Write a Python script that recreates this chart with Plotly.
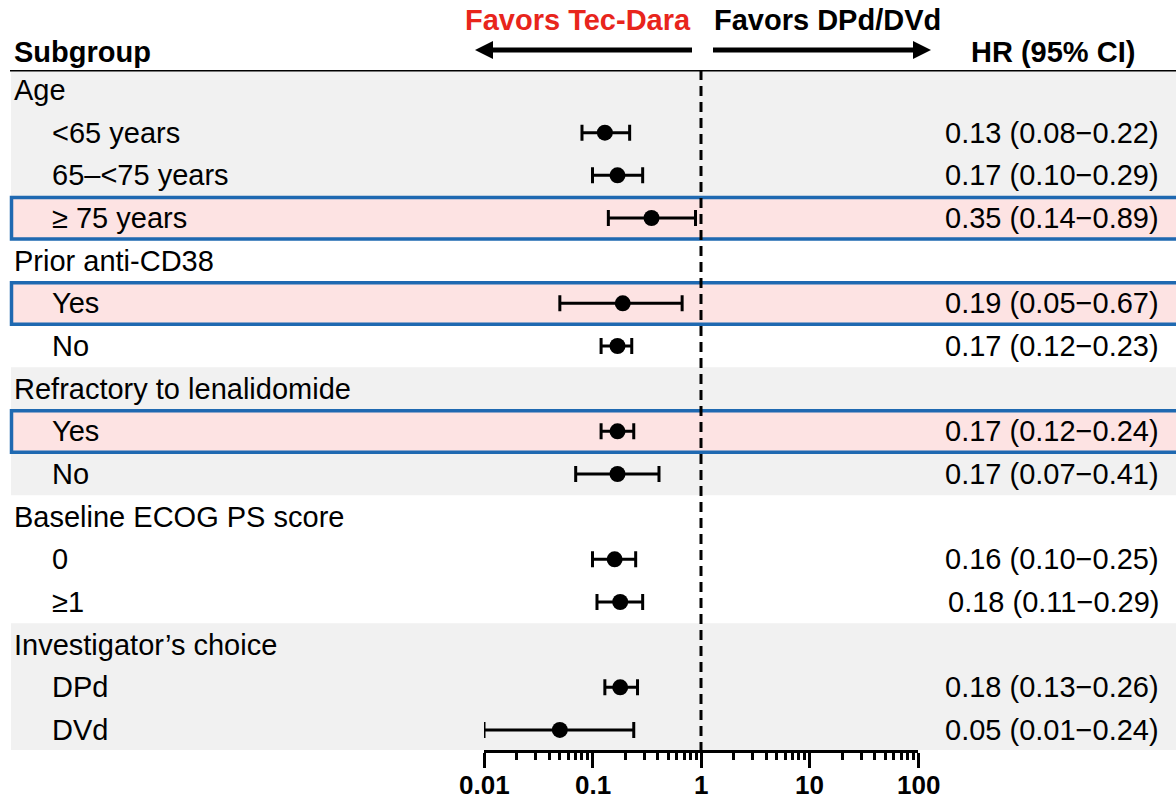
import math
import plotly.graph_objects as go

# ---------------- data ----------------
labels = ["Age", "<65 years", "65–<75 years", "≥ 75 years",
          "Prior anti-CD38", "Yes", "No",
          "Refractory to lenalidomide", "Yes", "No",
          "Baseline ECOG PS score", "0", "≥1",
          "Investigator’s choice", "DPd", "DVd"]
is_header = [True, False, False, False,
             True, False, False,
             True, False, False,
             True, False, False,
             True, False, False]
hr    = [None, 0.13, 0.17, 0.35, None, 0.19, 0.17, None, 0.17, 0.17, None, 0.16, 0.18, None, 0.18, 0.05]
lower = [None, 0.08, 0.10, 0.14, None, 0.05, 0.12, None, 0.12, 0.07, None, 0.10, 0.11, None, 0.13, 0.01]
upper = [None, 0.22, 0.29, 0.89, None, 0.67, 0.23, None, 0.24, 0.41, None, 0.25, 0.29, None, 0.26, 0.24]
highlight_rows = [3, 5, 8]
gray_groups = [(0, 3), (7, 9), (13, 15)]
tick_vals = [0.01, 0.1, 1, 10, 100]
tick_text = ["0.01", "0.1", "1", "10", "100"]

W, H = 1176, 801
FONT = "Liberation Sans, Arial, sans-serif"
FS = 29


def px(x):
    return x / W


def py(y):
    return 1 - y / H


rows = [i for i in range(len(labels)) if hr[i] is not None]
fig = go.Figure()
fig.add_trace(go.Scatter(
    x=[hr[i] for i in rows],
    y=rows,
    mode="markers",
    marker=dict(size=16, color="black"),
    error_x=dict(type="data", symmetric=False,
                 array=[upper[i] - hr[i] for i in rows],
                 arrayminus=[hr[i] - lower[i] for i in rows],
                 color="black", thickness=3, width=8),
    showlegend=False, hoverinfo="skip",
))

Y_TOP, Y_BOT = -0.47, 15.47
shapes = []
# gray bands
for a, b in gray_groups:
    shapes.append(dict(type="rect", xref="paper", yref="y",
                       x0=px(11), x1=1.0, y0=max(a - 0.5, Y_TOP), y1=min(b + 0.5, Y_BOT),
                       fillcolor="#f1f1f1", line=dict(width=0), layer="below"))
# highlighted rows
for r in highlight_rows:
    shapes.append(dict(type="rect", xref="paper", yref="y",
                       x0=px(11.5), x1=1.02, y0=r - 0.48, y1=r + 0.49,
                       fillcolor="#fde3e3", line=dict(color="#1f69b1", width=3.5), layer="below"))
# header line
shapes.append(dict(type="line", xref="paper", yref="y", x0=px(10), x1=1.0, y0=Y_TOP, y1=Y_TOP,
                   line=dict(color="black", width=3)))
# dashed reference line at HR = 1
shapes.append(dict(type="line", xref="x", yref="y", x0=1, x1=1, y0=Y_TOP, y1=Y_BOT,
                   line=dict(color="black", width=3, dash="10px,6px")))
# arrows
ya = py(50)
shapes.append(dict(type="line", xref="paper", yref="paper", x0=px(490), x1=px(692), y0=ya, y1=ya,
                   line=dict(color="black", width=5)))
shapes.append(dict(type="path", xref="paper", yref="paper",
                   path=f"M {px(475)} {ya} L {px(493)} {py(41)} L {px(493)} {py(59)} Z",
                   fillcolor="black", line=dict(width=0)))
shapes.append(dict(type="line", xref="paper", yref="paper", x0=px(713), x1=px(915), y0=ya, y1=ya,
                   line=dict(color="black", width=5)))
shapes.append(dict(type="path", xref="paper", yref="paper",
                   path=f"M {px(931)} {ya} L {px(913)} {py(41)} L {px(913)} {py(59)} Z",
                   fillcolor="black", line=dict(width=0)))

annotations = []
for i, lab in enumerate(labels):
    annotations.append(dict(xref="paper", yref="y", x=px(12 if is_header[i] else 50), y=i,
                            text=lab, showarrow=False, xanchor="left", yanchor="middle",
                            font=dict(family=FONT, size=FS, color="black")))
    if hr[i] is not None:
        txt = f"{hr[i]:.2f} ({lower[i]:.2f}\u2212{upper[i]:.2f})"
        annotations.append(dict(xref="paper", yref="y", x=px(1161), y=i,
                                text=txt, showarrow=False, xanchor="right", yanchor="middle",
                                font=dict(family=FONT, size=FS, color="black")))
# x-axis tick labels (annotations on a log axis take log10 positions)
for v, t in zip(tick_vals, tick_text):
    annotations.append(dict(xref="x", yref="paper", x=math.log10(v), y=py(785), text=f"<b>{t}</b>",
                            showarrow=False, xanchor="center", yanchor="middle",
                            font=dict(family=FONT, size=26, color="black")))
annotations += [
    dict(xref="paper", yref="paper", x=px(12), y=py(52), text="<b>Subgroup</b>", showarrow=False,
         xanchor="left", yanchor="middle", font=dict(family=FONT, size=FS, color="black")),
    dict(xref="paper", yref="paper", x=px(969), y=py(52), text="<b>HR (95% CI)</b>", showarrow=False,
         xanchor="left", yanchor="middle", font=dict(family=FONT, size=FS, color="black")),
    dict(xref="paper", yref="paper", x=px(693), y=py(20), text="<b>Favors Tec-Dara</b>", showarrow=False,
         xanchor="right", yanchor="middle", font=dict(family=FONT, size=FS, color="#e8251c")),
    dict(xref="paper", yref="paper", x=px(712), y=py(20), text="<b>Favors DPd/DVd</b>", showarrow=False,
         xanchor="left", yanchor="middle", font=dict(family=FONT, size=FS, color="black")),
]

minor_vals = [m * 10 ** e for e in (-2, -1, 0, 1) for m in range(2, 10)]

fig.update_layout(
    width=W, height=H, autosize=False,
    margin=dict(l=0, r=0, t=0, b=0, pad=0, autoexpand=False),
    paper_bgcolor="white", plot_bgcolor="rgba(0,0,0,0)",
    shapes=shapes, annotations=annotations,
    xaxis=dict(type="log", range=[-2, 2], domain=[px(484), px(918)],
               showline=True, linecolor="black", linewidth=3,
               ticks="outside", ticklen=15, tickwidth=3, tickcolor="black",
               tickvals=tick_vals, showticklabels=False,
               minor=dict(ticks="outside", ticklen=7, tickwidth=3, tickcolor="black",
                          tickvals=minor_vals, showgrid=False),
               showgrid=False, zeroline=False, fixedrange=True, automargin=False),
    yaxis=dict(range=[Y_BOT, Y_TOP], domain=[py(750), py(70)], visible=False,
               showgrid=False, zeroline=False, fixedrange=True, automargin=False),
)

fig.write_html(
    "out.html",
    config={"responsive": False, "displayModeBar": False},
    post_script="document.body.style.margin='0';document.body.style.overflow='hidden';",
)
